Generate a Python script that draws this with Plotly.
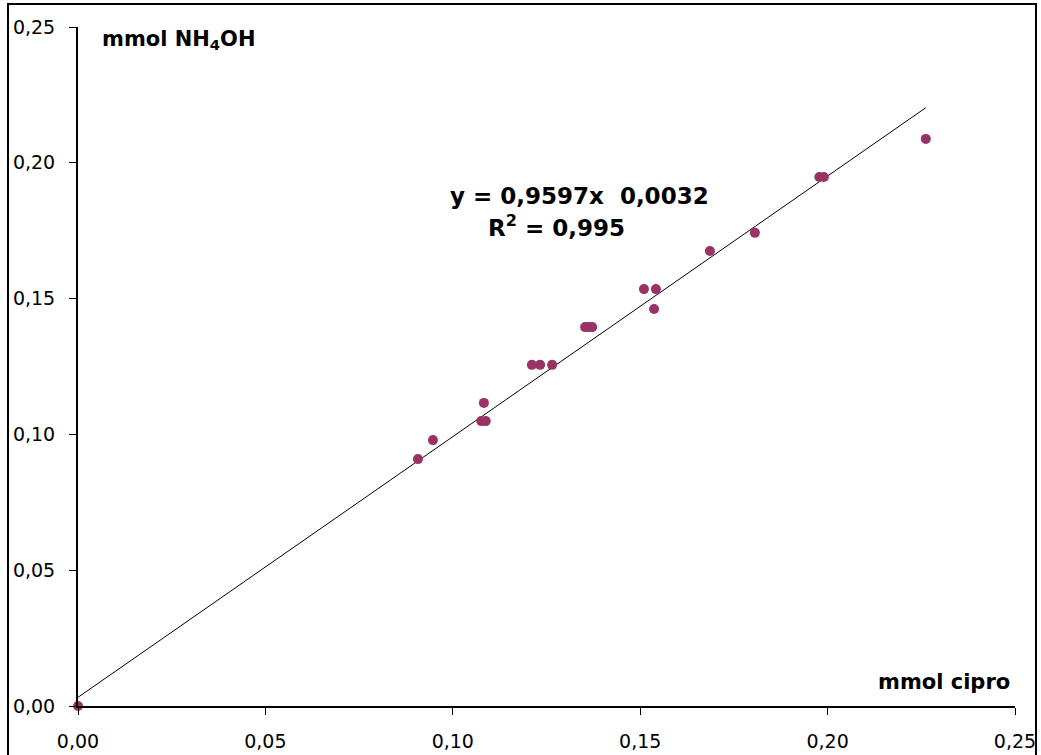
import plotly.graph_objects as go

x_cipro = [0.0, 0.0907, 0.0947, 0.1083, 0.1076, 0.1088, 0.1211, 0.1233, 0.1265,
           0.1353, 0.1362, 0.1372, 0.1510, 0.1542, 0.1537, 0.1686, 0.1806,
           0.1978, 0.1990, 0.2262]
y_nh4oh = [0.0, 0.0909, 0.0979, 0.1116, 0.1049, 0.1049, 0.1256, 0.1256, 0.1256,
           0.1395, 0.1395, 0.1395, 0.1535, 0.1535, 0.1462, 0.1675, 0.1742,
           0.1948, 0.1948, 0.2088]

slope = 0.9597
intercept = 0.0032
trend_x = [0.0, max(x_cipro)]
trend_y = [slope * v + intercept for v in trend_x]

x_ticks = [0.0, 0.05, 0.10, 0.15, 0.20, 0.25]
x_ticklabels = ["0,00", "0,05", "0,10", "0,15", "0,20", "0,25"]
y_ticks = [0.0, 0.05, 0.10, 0.15, 0.20, 0.25]
y_ticklabels = ["0,00", "0,05", "0,10", "0,15", "0,20", "0,25"]

font_family = "DejaVu Sans, Verdana, sans-serif"

fig = go.Figure()
fig.add_trace(go.Scatter(x=trend_x, y=trend_y, mode="lines",
                         line=dict(color="black", width=1), hoverinfo="skip",
                         showlegend=False))
fig.add_trace(go.Scatter(x=x_cipro, y=y_nh4oh, mode="markers",
                         marker=dict(color="#993366", size=10),
                         showlegend=False, cliponaxis=False))

fig.update_layout(
    width=1041, height=755,
    margin=dict(l=78, r=26, t=27, b=49),
    paper_bgcolor="white", plot_bgcolor="white",
    font=dict(family=font_family, size=19, color="black"),
    xaxis=dict(range=[0, 0.25], tickvals=x_ticks, ticktext=x_ticklabels,
               showgrid=False, zeroline=False, showline=True, linecolor="black",
               linewidth=2, ticks="outside", ticklen=7, tickcolor="black",
               tickwidth=1, tickfont=dict(size=19), ticklabelstandoff=10,
               automargin=False),
    yaxis=dict(range=[0, 0.25], tickvals=y_ticks, ticktext=y_ticklabels,
               showgrid=False, zeroline=False, showline=True, linecolor="black",
               linewidth=2, ticks="outside", ticklen=7, tickcolor="black",
               tickwidth=1, tickfont=dict(size=19), ticklabelstandoff=10,
               automargin=False),
    shapes=[dict(type="rect", xref="paper", yref="paper",
                 x0=-0.0747, x1=1.0224, y0=-0.2, y1=1.0339,
                 line=dict(color="black", width=2), fillcolor="rgba(0,0,0,0)",
                 layer="below")],
    annotations=[
        dict(text="<b>mmol NH<sub>4</sub>OH</b>", xref="paper", yref="paper",
             x=0.0235, y=0.981, xanchor="left", yanchor="middle", showarrow=False,
             font=dict(size=21)),
        dict(text="<b>mmol cipro</b>", xref="paper", yref="paper",
             x=0.9968, y=0.036, xanchor="right", yanchor="middle", showarrow=False,
             font=dict(size=21)),
        dict(text="<b>y = 0,9597x  0,0032</b>", xref="paper", yref="paper",
             x=0.5347, y=0.751, xanchor="center", yanchor="middle", showarrow=False,
             font=dict(size=23)),
        dict(text="<b>R<sup>2</sup> = 0,995</b>", xref="paper", yref="paper",
             x=0.5112, y=0.707, xanchor="center", yanchor="middle", showarrow=False,
             font=dict(size=23)),
    ],
)

fig.write_html("out.html")
